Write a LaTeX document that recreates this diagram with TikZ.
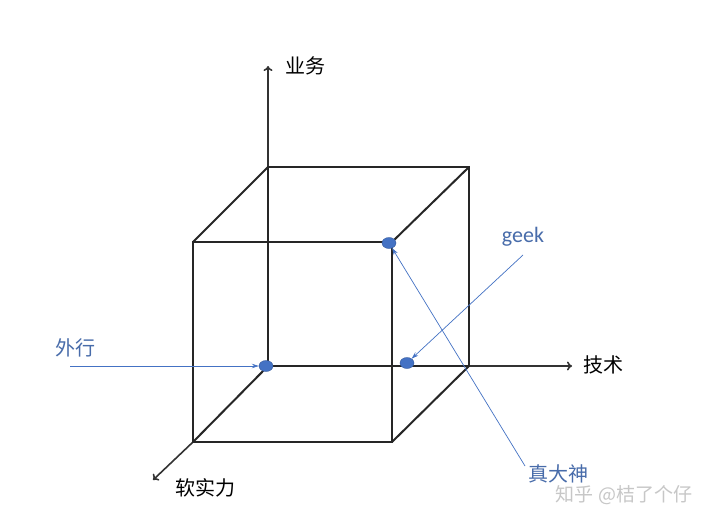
\documentclass[tikz,border=0pt]{standalone}
\usepackage{fontspec}
\setmainfont{Carlito}
\newfontfamily\cjk{Noto Sans CJK SC}
\usepackage{xcolor}
\usetikzlibrary{arrows.meta,shapes.geometric}
\definecolor{pointblue}{RGB}{68,114,196}
\definecolor{textblue}{RGB}{72,108,170}
\tikzset{
  cube edge/.style={line width=2pt, black!85, line join=miter},
  axis/.style={line width=1.6pt, black!80, -{To[length=5pt,width=9pt]}},
  pointer/.style={pointblue, line width=0.7pt, -{Stealth[length=7pt,width=4.5pt]}},
  spot/.style={ellipse, fill=pointblue, draw=pointblue!80!black, line width=0.4pt,
    minimum width=14pt, minimum height=11pt, inner sep=0pt},
  axis name/.style={font=\cjk\fontsize{20}{20}\selectfont, text=black},
  type name/.style={font=\cjk\fontsize{20}{20}\selectfont, text=textblue},
}
\begin{document}
\begin{tikzpicture}[x=1pt,y=-1pt]
  \useasboundingbox[fill=white] (0,0) rectangle (720,525);
  % cube corners
  \coordinate (o) at (268,366);
  \coordinate (bt) at (268,167);
  \coordinate (btr) at (469,167);
  \coordinate (br) at (469,366);
  \coordinate (ftl) at (193,242);
  \coordinate (ftr) at (392,242);
  \coordinate (fbl) at (193,442);
  \coordinate (fbr) at (392,442);
  % axes
  \coordinate (yend) at (268,66);
  \coordinate (xend) at (572,366);
  \coordinate (zend) at (153,480);
  \draw[axis] (o) -- (yend);
  \draw[axis] (o) -- (xend);
  \draw[axis] (fbl) -- (zend);
  \node[axis name] (business) at (305,66) {业务};
  \node[axis name] (tech) at (603,365) {技术};
  \node[axis name] (soft) at (205,488) {软实力};
  % cube
  \draw[cube edge] (bt) -- (btr) -- (br) -- (o) -- cycle;
  \draw[cube edge] (ftl) -- (ftr) -- (fbr) -- (fbl) -- cycle;
  \draw[cube edge] (bt) -- (ftl) (btr) -- (ftr) (br) -- (fbr) (o) -- (fbl);
  % points
  \node[spot] (guru) at (389,243) {};
  \node[spot] (outsider) at (266,366) {};
  \node[spot] (geekpt) at (407,363) {};
  \node[type name] (outsidertext) at (75,348) {外行};
  \node[font=\fontsize{22}{22}\selectfont, text=textblue] (geektext) at (523,237) {geek};
  \node[type name] (gurutext) at (558,474) {真大神};
  \coordinate (outsidertail) at (70,366);
  \coordinate (geektail) at (523,255);
  \coordinate (gurutail) at (525,466);
  \draw[pointer] (outsidertail) -- (outsider);
  \draw[pointer] (geektail) -- (geekpt);
  \draw[pointer] (gurutail) -- (guru);
  % watermark
  \node[font=\cjk\fontsize{19}{19}\selectfont, text=black!22] (mark) at (624,495) {知乎 @桔了个仔};
\end{tikzpicture}
\end{document}
